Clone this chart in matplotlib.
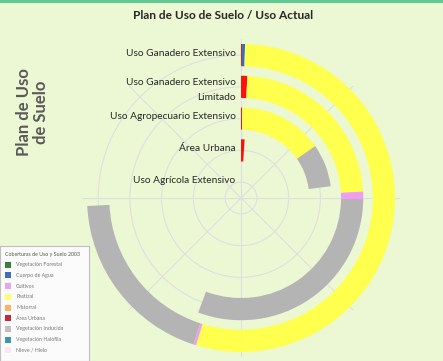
import numpy as np
import matplotlib.pyplot as plt
from matplotlib.patches import Rectangle

# rings, from the innermost to the outermost
usos = ["Uso Agrícola Extensivo", "Área Urbana", "Uso Agropecuario Extensivo",
        "Uso Ganadero Extensivo\nLimitado", "Uso Ganadero Extensivo"]

# stacked segments of each ring (clockwise from the top), in degrees of the 360 scale
seg_urbana = [0.0, 3.5, 0.8, 3.0, 0.4]
seg_agua = [0.0, 0.0, 0.0, 0.0, 1.1]
seg_pastizal = [0.0, 0.0, 54.2, 84.0, 195.5]
seg_cultivos = [0.0, 0.0, 0.0, 3.5, 1.0]
seg_inducida = [0.0, 0.0, 27.5, 110.0, 69.0]

series = [
    ("Área Urbana", seg_urbana, "#ff1010"),
    ("Cuerpo de Agua", seg_agua, "#2e6fc4"),
    ("Pastizal", seg_pastizal, "#ffff4d"),
    ("Cultivos", seg_cultivos, "#ef9cf2"),
    ("Vegetación Inducida", seg_inducida, "#b4b4b4"),
]

leg_title = "Coberturas de Uso y Suelo 2003"
leg_labels = ["Vegetación Forestal", "Cuerpo de Agua", "Cultivos", "Pastizal",
              "Matorral", "Área Urbana", "Vegetación Inducida",
              "Vegetación Halófila", "Nieve / Hielo"]
leg_colors = ["#3b7d3b", "#3f70c0", "#e6a6f0", "#ffff66", "#ffb060",
              "#c4283c", "#c0c0c0", "#3a9aaa", "#fbe6f4"]

bg = "#ecf7d4"
plt.rcParams['font.family'] = ['Lato', 'DejaVu Sans']

fig = plt.figure(figsize=(4.43, 3.61), dpi=100)
fig.patch.set_facecolor(bg)
fig.add_artist(Rectangle((0, 0.991), 1, 0.009, transform=fig.transFigure,
                         color="#62cb93", lw=0))

ax = fig.add_axes([0.1857, 0.0118, 0.7167, 0.8795], projection='polar')
ax.set_facecolor(bg)
ax.set_theta_zero_location('N')
ax.set_theta_direction(-1)
ax.set_ylim(0, 5.0)

n = len(usos)
centers = np.arange(n) + 0.5
start = np.zeros(n)
for name, vals, col in series:
    vals = np.array(vals)
    ax.bar(np.deg2rad(start + vals / 2), 0.7, width=np.deg2rad(vals),
           bottom=centers - 0.35, color=col, edgecolor='none', zorder=3)
    start += vals

ax.set_thetagrids(np.arange(0, 360, 45), labels=[])
ax.set_rgrids(centers, labels=[])
ax.grid(True, color="#dedee0", lw=0.75)
ax.spines['polar'].set_visible(False)

for r, lab in zip(centers, usos):
    dy = -2.5 if "\n" in lab else 1.5
    ax.annotate(lab, xy=(0, r), xytext=(-4, dy), textcoords='offset points',
                ha='right', va='center', fontsize=7.3, color="#262626",
                linespacing=1.85, zorder=4)

fig.text(0.503, 0.956, "Plan de Uso de Suelo / Uso Actual", ha='center', va='center',
         fontsize=8.6, fontweight='bold', color="#262626")
fig.text(0.073, 0.69, "Plan de Uso\nde Suelo", rotation=90, ha='center', va='center',
         fontsize=12, fontweight='bold', color="#595959", linespacing=1.05)

# legend box
lax = fig.add_axes([0.0, 0.0, 0.2, 0.318])
lax.set_xlim(0, 88)
lax.set_ylim(114.8, 0)
lax.set_facecolor("#fbfbfb")
for s in lax.spines.values():
    s.set_color("#bfbfbf")
    s.set_linewidth(0.8)
lax.set_xticks([])
lax.set_yticks([])
lax.text(5, 8, leg_title, fontsize=3.8, color="#555555", va='center')
for i, (lab, col) in enumerate(zip(leg_labels, leg_colors)):
    y = 18.5 + i * 10.7
    lax.add_patch(Rectangle((4.5, y - 3), 6.5, 6, color=col, lw=0))
    lax.text(16, y, lab, fontsize=3.8, color="#777777", va='center')

fig.savefig("out.png", dpi=100, facecolor=fig.get_facecolor())
